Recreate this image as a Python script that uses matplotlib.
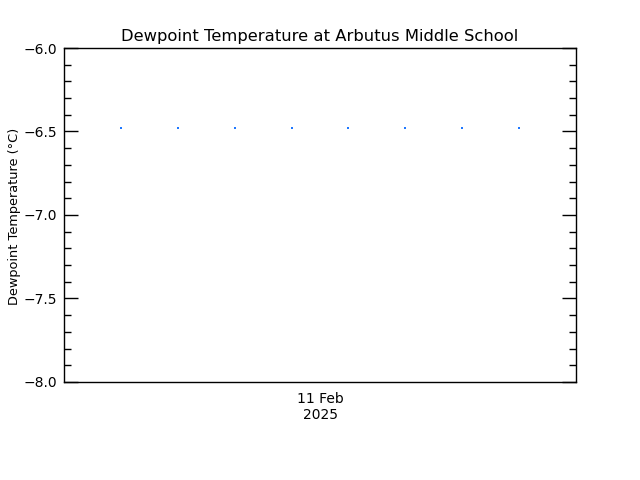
import matplotlib
matplotlib.use('Agg')
import matplotlib.pyplot as plt
from matplotlib.ticker import MultipleLocator, FuncFormatter
import datetime as dt

# observation times and dewpoint values (degC)
times = [dt.datetime(2025, 2, 11, h) for h in range(1, 9)]
dewpoint = [-6.48, -6.48, -6.48, -6.48, -6.48, -6.48, -6.48, -6.48]

x_start = dt.datetime(2025, 2, 11, 0)
x_end = dt.datetime(2025, 2, 11, 9)
x_label_pos = dt.datetime(2025, 2, 11, 4, 30)
x_label = '11 Feb\n2025'

fig = plt.figure(figsize=(6.4, 4.8), dpi=100)
ax = fig.add_axes([0.1, 0.2042, 0.8, 0.6958])

ax.plot(times, dewpoint, linestyle='none', marker='s', markersize=1.5,
        color='#1e78ff', markeredgewidth=0)

ax.set_xlim(x_start, x_end)
ax.set_ylim(-8.0, -6.0)
ax.set_xticks([x_label_pos])
ax.set_xticklabels([x_label])
ax.tick_params(axis='x', length=0, pad=7, labelsize=10)

ax.yaxis.set_major_locator(MultipleLocator(0.5))
ax.yaxis.set_minor_locator(MultipleLocator(0.1))
ax.yaxis.set_major_formatter(FuncFormatter(lambda v, p: ('%.1f' % v).replace('-', '\u2212')))
ax.tick_params(axis='y', which='major', length=10, width=1, direction='in',
               right=True, labelsize=10, pad=5)
ax.tick_params(axis='y', which='minor', length=5, width=1, direction='in',
               right=True)

for s in ax.spines.values():
    s.set_linewidth(1)

ax.set_ylabel('Dewpoint Temperature (°C)', fontsize=9.3)
ax.yaxis.set_label_coords(-0.084, 0.495)
ax.set_title('Dewpoint Temperature at Arbutus Middle School', fontsize=11.8, pad=5)

fig.savefig('out.png', dpi=100)
